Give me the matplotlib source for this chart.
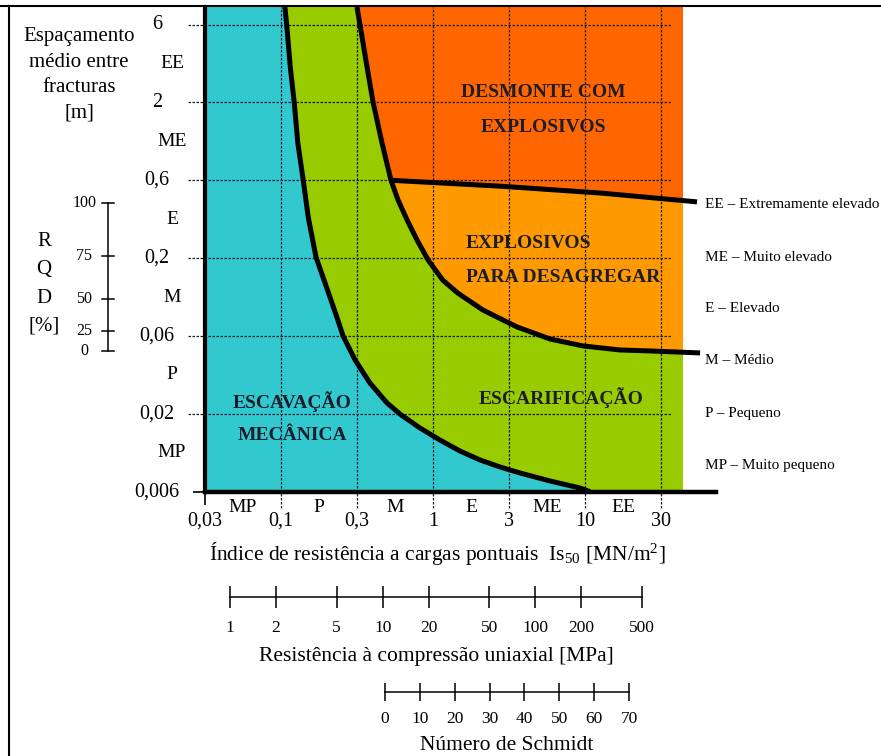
import numpy as np
import matplotlib.pyplot as plt
from matplotlib.patches import Polygon, Rectangle
from matplotlib.lines import Line2D

plt.rcParams['font.family'] = ['Liberation Serif', 'DejaVu Serif']
plt.rcParams['mathtext.fontset'] = 'custom'
plt.rcParams['mathtext.rm'] = 'Liberation Serif'
plt.rcParams['mathtext.default'] = 'regular'

W, H = 881, 756

# main chart: Is50 [MN/m2] (x) vs fracture spacing [m] (y)
x_lim = (0.0316, 72.8)
y_lim = (0.006, 7.78)
zone_right = 44.2

x_ticks = [0.0316, 0.1, 0.316, 1, 3.16, 10, 31.6]
x_tick_labels = ['0,03', '0,1', '0,3', '1', '3', '10', '30']
y_ticks = [0.006, 0.019, 0.06, 0.19, 0.6, 1.9, 6]
y_tick_labels = ['0,006', '0,02', '0,06', '0,2', '0,6', '2', '6']
classes = ['MP', 'P', 'M', 'E', 'ME', 'EE']

# boundary: escavacao mecanica / escarificacao
c1_x = [0.106, 0.109, 0.115, 0.122, 0.129, 0.140, 0.151, 0.170, 0.195, 0.233,
        0.256, 0.307, 0.385, 0.498, 0.607, 0.821, 1.11, 1.505, 2.04, 2.76,
        3.74, 5.89, 9.27, 10.8]
c1_y = [7.78, 5.96, 3.21, 1.91, 1.04, 0.60, 0.348, 0.192, 0.131, 0.0793,
        0.060, 0.0421, 0.0299, 0.0223, 0.0189, 0.01539, 0.01289, 0.01095,
        0.00959, 0.00865, 0.00791, 0.00703, 0.00634, 0.006]

# boundary: escarificacao / explosivos
c2_x = [0.316, 0.331, 0.368, 0.403, 0.462, 0.529, 0.589, 0.675, 0.785, 0.927,
        1.16, 1.46, 2.13, 3.57, 5.89, 9.70, 17.0, 26.8, 57.2]
c2_y = [7.78, 5.96, 3.21, 1.91, 1.04, 0.60, 0.448, 0.334, 0.248, 0.185,
        0.137, 0.113, 0.0881, 0.0686, 0.0574, 0.0518, 0.0488, 0.0481, 0.0467]

# boundary: desmonte com explosivos / explosivos para desagregar
ee_x = [0.529, 2.76, 12.6, 54.6]
ee_y = [0.60, 0.55, 0.497, 0.436]

rqd_vals = [0, 25, 50, 75, 100]
rqd_pos = [0.048, 0.0646, 0.104, 0.196, 0.429]

ucs_ticks = [1, 2, 5, 10, 20, 50, 100, 200, 500]
schmidt_ticks = [0, 10, 20, 30, 40, 50, 60, 70]

legend_items = ['EE – Extremamente elevado', 'ME – Muito elevado', 'E – Elevado',
                'M – Médio', 'P – Pequeno', 'MP – Muito pequeno']

c_cyan = '#31C9CE'
c_green = '#99CC00'
c_dark = '#FF6600'
c_light = '#FF9900'
c_txt = '#1c1c2c'


def fpos(x, y):
    return x / W, 1 - y / H


fig = plt.figure(figsize=(W / 100, H / 100), dpi=100)
ax = fig.add_axes([205 / W, 1 - 491.7 / H, (716 - 205) / W, (491.7 - 7) / H])
ax.set_xscale('log')
ax.set_yscale('log')
ax.set_xlim(*x_lim)
ax.set_ylim(*y_lim)
ax.patch.set_alpha(0)

zone = Rectangle((x_lim[0], y_lim[0]), zone_right - x_lim[0], y_lim[1] - y_lim[0],
                 transform=ax.transData, facecolor='none', edgecolor='none')

ax.add_patch(Rectangle((x_lim[0], y_lim[0]), zone_right - x_lim[0], y_lim[1] - y_lim[0],
                       facecolor=c_green, edgecolor='none', zorder=0.5))

cyan = Polygon([(x_lim[0], y_lim[0]), (x_lim[0], y_lim[1])] + list(zip(c1_x, c1_y)),
               closed=True, facecolor=c_cyan, edgecolor='none', zorder=1)
light = Polygon(list(zip(c2_x, c2_y)) + [(c2_x[-1], y_lim[1])],
                closed=True, facecolor=c_light, edgecolor='none', zorder=1)
dark = Polygon(list(zip(c2_x[:6], c2_y[:6])) + list(zip(ee_x[1:], ee_y[1:]))
               + [(ee_x[-1], y_lim[1])],
               closed=True, facecolor=c_dark, edgecolor='none', zorder=1.1)
for p in (cyan, light, dark):
    ax.add_patch(p)
    p.set_clip_path(zone)

# dotted grid, running past the axes
for v in x_ticks[1:]:
    ax.axvline(v, ymin=-0.034, ymax=1, ls=(0, (2, 1.2)), lw=0.9, color='#1a1a33',
               clip_on=False, zorder=2)
for v in y_ticks[1:]:
    ax.axhline(v, xmin=-0.033, xmax=0.914, ls=(0, (2, 1.2)), lw=0.9, color='#1a1a33',
               clip_on=False, zorder=2)

ax.plot(c1_x, c1_y, color='k', lw=3.6, zorder=4, solid_capstyle='butt')
ax.plot(c2_x, c2_y, color='k', lw=3.6, zorder=4, solid_capstyle='butt')
ax.plot(ee_x, ee_y, color='k', lw=3.6, zorder=4, solid_capstyle='butt')

for s in ['top', 'right']:
    ax.spines[s].set_visible(False)
ax.spines['left'].set_linewidth(3)
ax.spines['bottom'].set_linewidth(3.2)
ax.spines['left'].set_zorder(5)
ax.spines['bottom'].set_zorder(5)
ax.set_xticks([x_ticks[0]], [''])
ax.set_yticks([y_ticks[0]], [''])
ax.minorticks_off()
ax.tick_params(length=9, width=1.2, direction='out')

# region labels
bold = dict(fontsize=14, fontweight='bold', color=c_txt, zorder=5)
ax.text(5.3, 2.21, 'DESMONTE COM', ha='center', va='center', **bold)
ax.text(5.3, 1.30, 'EXPLOSIVOS', ha='center', va='center', **bold)
ax.text(1.65, 0.237, 'EXPLOSIVOS', ha='left', va='center', **bold)
ax.text(1.65, 0.143, 'PARA DESAGREGAR', ha='left', va='center', **bold)
ax.text(0.118, 0.0226, 'ESCAVAÇÃO', ha='center', va='center', **bold)
ax.text(0.118, 0.01387, 'MECÂNICA', ha='center', va='center', **bold)
ax.text(6.95, 0.024, 'ESCARIFICAÇÃO', ha='center', va='center', **bold)

# axis labels and class names
xt = ax.get_xaxis_transform()
yt = ax.get_yaxis_transform()
for v, lab in zip(x_ticks, x_tick_labels):
    ax.text(v, -0.0605, lab, transform=xt, ha='center', va='center', fontsize=14.5)
for v, lab in zip(y_ticks, y_tick_labels):
    ax.text(-0.094, v, lab, transform=yt, ha='center', va='center', fontsize=14.5)
for i, lab in enumerate(classes):
    xm = np.sqrt(x_ticks[i] * x_ticks[i + 1])
    ym = np.sqrt(y_ticks[i] * y_ticks[i + 1])
    ax.text(xm, -0.0336, lab, transform=xt, ha='center', va='center', fontsize=14)
    ax.text(-0.0646, ym, lab, transform=yt, ha='center', va='center', fontsize=14)

ax.text(0.454, -0.1285, 'Índice de resistência a cargas pontuais  Is$_{50}$ [MN/m$^{2}$]',
        transform=ax.transAxes, ha='center', va='center', fontsize=15.5)

fig.text(*fpos(79, 75), 'Espaçamento\nmédio entre\nfracturas\n[m]', ha='center',
         va='center', fontsize=15, linespacing=1.47)

# RQD scale, tied to the spacing axis
ax.plot([-0.1898] * 2, [rqd_pos[0], rqd_pos[-1]], transform=yt, color='k', lw=1.1,
        clip_on=False)
for v, p in zip(rqd_vals, rqd_pos):
    ax.plot([-0.2016, -0.178], [p, p], transform=yt, color='k', lw=1.1, clip_on=False)
    ax.text(-0.236, p, str(v), transform=yt, ha='center', va='center', fontsize=11.5)
fig.text(*fpos(44, 284), 'R\nQ\nD\n[%]', ha='center', va='center', fontsize=15,
         linespacing=1.65)

# uniaxial compressive strength scale
ax_u = fig.add_axes([230 / W, 1 - 597 / H, (642 - 230) / W, 0.0005])
ax_u.set_xscale('log')
ax_u.set_xlim(ucs_ticks[0], ucs_ticks[-1])
ax_u.set_xticks(ucs_ticks, [str(v) for v in ucs_ticks])
ax_u.xaxis.set_minor_locator(plt.NullLocator())
ax_u.set_xlabel('Resistência à compressão uniaxial [MPa]', fontsize=15.5, labelpad=8)

# Schmidt hammer scale
ax_s = fig.add_axes([385 / W, 1 - 692 / H, (629 - 385) / W, 0.0005])
ax_s.set_xlim(schmidt_ticks[0], schmidt_ticks[-1])
ax_s.set_xticks(schmidt_ticks, [str(v) for v in schmidt_ticks])
ax_s.set_xlabel('Número de Schmidt', fontsize=15.5, labelpad=6)

for a, ln, pd in ((ax_u, 16, 8.5), (ax_s, 13, 7.5)):
    a.patch.set_alpha(0)
    a.get_yaxis().set_visible(False)
    for s in ['top', 'right', 'left']:
        a.spines[s].set_visible(False)
    a.spines['bottom'].set_linewidth(1.1)
    a.tick_params(axis='x', direction='inout', length=ln, width=1.1, labelsize=12.5, pad=pd)

for i, s in enumerate(legend_items):
    fig.text(*fpos(705, 205 + 52 * i), s, ha='left', va='center', fontsize=11)

# page frame
fig.add_artist(Line2D([0, 1], [1 - 6 / H] * 2, transform=fig.transFigure, color='k', lw=1.5))
fig.add_artist(Line2D([9 / W] * 2, [0, 1 - 6 / H], transform=fig.transFigure, color='k', lw=1.5))

fig.savefig('out.png', dpi=100)
